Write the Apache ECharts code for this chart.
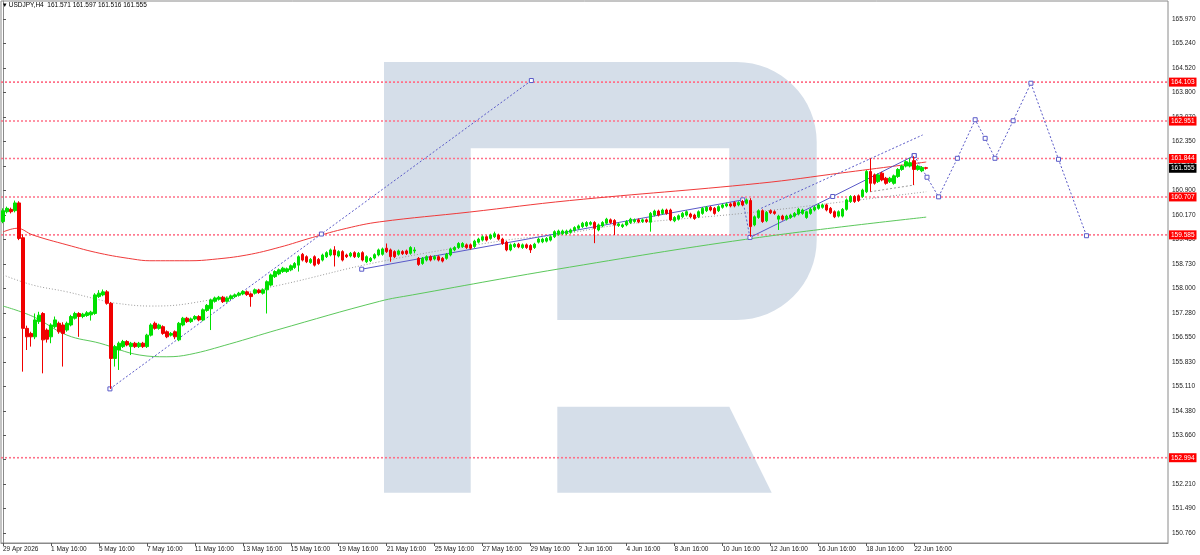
<!DOCTYPE html>
<html>
<head>
<meta charset="utf-8">
<script src="https://cdn.jsdelivr.net/npm/echarts@6/dist/echarts.min.js"></script>
<style>html,body{margin:0;padding:0;background:#fff;}#c{width:1200px;height:555px;}</style>
</head>
<body>
<div id="c"></div>
<script>
// ---------- DATA ----------
const symbolName = 'USDJPY,H4';
const xTickLabels = ['29 Apr 2026','1 May 16:00','5 May 16:00','7 May 16:00','11 May 16:00','13 May 16:00','15 May 16:00','19 May 16:00','21 May 16:00','25 May 16:00','27 May 16:00','29 May 16:00','2 Jun 16:00','4 Jun 16:00','8 Jun 16:00','10 Jun 16:00','12 Jun 16:00','16 Jun 16:00','18 Jun 16:00','22 Jun 16:00'];
const barsPerLabel = 12;
const slotCount = 292;
const yTicks = [150.760,151.490,152.210,152.940,153.660,154.380,155.110,155.830,156.550,157.280,158.000,158.730,159.450,160.170,160.900,161.620,162.350,163.070,163.800,164.520,165.240,165.970];
const levels = [164.103,162.951,161.844,160.707,159.585,152.994];
const currentPrice = 161.555;
// candles: [open, close, low, high]
const candles = [
[159.98,160.30,159.93,160.37],[160.27,160.37,160.22,160.42],[160.34,160.27,160.22,160.39],[160.30,160.53,160.25,160.60],
[160.53,159.48,159.43,160.58],[159.50,156.82,155.54,159.60],[156.82,156.57,156.18,156.90],[156.67,156.57,156.28,156.72],
[156.57,157.07,156.50,157.26],[157.02,157.21,156.95,157.31],[157.26,156.48,155.49,157.30],[156.77,156.50,156.40,156.82],
[156.57,156.92,156.38,156.97],[156.87,157.07,156.82,157.17],[156.97,156.72,156.66,157.02],[156.92,156.67,155.69,157.00],
[156.77,156.97,156.72,157.02],[156.92,157.17,156.88,157.22],[157.12,157.26,157.08,157.31],[157.26,157.17,156.57,157.30],
[157.17,157.24,157.12,157.28],[157.20,157.28,157.16,157.33],[157.22,157.30,157.05,157.34],[157.26,157.81,157.22,157.86],
[157.76,157.86,157.72,157.95],[157.81,157.90,157.77,157.97],[157.90,157.56,157.52,157.95],[157.56,155.93,155.03,157.60],
[155.93,156.28,155.69,156.33],[156.18,156.38,155.59,156.43],[156.28,156.43,156.24,156.48],[156.43,156.33,156.29,156.47],
[156.28,156.38,156.03,156.42],[156.38,156.28,156.24,156.42],[156.28,156.38,156.24,156.42],[156.38,156.28,156.24,156.42],
[156.28,156.62,156.24,156.66],[156.62,156.92,156.58,156.97],[156.97,156.82,156.78,157.02],[156.82,156.92,156.78,156.96],
[156.87,156.67,156.63,156.91],[156.72,156.57,156.53,156.76],[156.62,156.67,156.58,156.71],[156.72,156.57,156.50,156.76],
[156.48,156.97,156.44,157.01],[156.92,157.12,156.88,157.16],[157.12,157.02,156.98,157.16],[157.02,157.10,156.98,157.14],
[157.10,157.17,157.06,157.21],[157.17,157.07,157.03,157.21],[157.07,157.37,157.03,157.41],[157.35,157.50,157.31,157.54],
[157.40,157.66,156.77,157.70],[157.62,157.72,157.58,157.76],[157.68,157.74,157.64,157.78],[157.74,157.61,157.57,157.78],
[157.62,157.72,157.58,157.76],[157.70,157.78,157.66,157.82],[157.76,157.81,157.72,157.85],[157.80,157.86,157.76,157.90],
[157.84,157.91,157.80,157.95],[157.90,157.82,157.78,157.94],[157.84,157.76,157.46,157.88],[157.86,157.96,157.82,158.00],
[157.95,157.88,157.84,157.99],[157.86,157.96,157.82,158.00],[157.96,158.20,157.26,158.24],[158.10,158.40,158.06,158.44],
[158.35,158.50,158.31,158.54],[158.43,158.55,158.39,158.59],[158.50,158.60,158.46,158.64],[158.50,158.58,158.46,158.62],
[158.55,158.67,158.51,158.71],[158.62,158.74,158.58,158.78],[158.69,158.94,158.50,158.98],[159.01,158.84,158.80,159.05],
[158.94,158.79,158.75,158.98],[158.77,158.86,158.73,158.90],[158.94,158.69,158.65,158.98],[158.86,158.74,158.70,158.90],
[158.84,158.99,158.80,159.03],[158.94,159.06,158.90,159.10],[158.99,159.14,158.95,159.18],[159.14,158.99,158.65,159.25],
[158.96,159.09,158.92,159.13],[159.09,158.84,158.80,159.13],[158.99,158.94,158.90,159.03],[158.96,159.04,158.92,159.08],
[159.06,158.94,158.90,159.10],[158.94,159.04,158.90,159.08],[159.06,158.84,158.80,159.10],[158.79,158.94,158.75,158.98],
[158.82,158.89,158.78,158.93],[158.90,159.00,158.86,159.04],[158.99,159.14,158.95,159.18],[159.01,159.17,158.97,159.21],
[159.19,159.09,159.05,159.33],[159.14,158.94,158.79,159.18],[159.09,158.94,158.90,159.13],[159.01,159.11,158.97,159.15],
[159.09,159.03,158.99,159.13],[159.11,159.03,158.99,159.15],[159.04,159.21,159.00,159.25],[159.11,159.14,159.04,159.22],
[158.89,158.71,158.67,158.93],[158.74,158.89,158.70,158.93],[158.84,158.94,158.80,158.98],[158.94,158.84,158.80,158.98],
[158.87,158.94,158.83,158.98],[158.94,158.84,158.80,158.98],[158.89,158.81,158.77,158.93],[158.89,159.01,158.85,159.05],
[158.99,159.17,158.95,159.21],[159.14,159.21,159.10,159.25],[159.21,159.33,159.17,159.37],[159.24,159.33,159.20,159.37],
[159.29,159.21,159.17,159.33],[159.29,159.19,159.15,159.33],[159.24,159.40,159.20,159.44],[159.37,159.46,159.33,159.50],
[159.43,159.53,159.39,159.57],[159.53,159.43,159.39,159.57],[159.48,159.58,159.44,159.62],[159.53,159.62,159.49,159.68],
[159.58,159.46,159.42,159.62],[159.46,159.33,159.29,159.50],[159.37,159.14,159.10,159.41],[159.14,159.29,159.10,159.33],
[159.24,159.31,159.20,159.35],[159.31,159.23,159.19,159.35],[159.21,159.29,159.17,159.33],[159.29,159.21,159.17,159.33],
[159.27,159.14,159.05,159.31],[159.21,159.31,159.17,159.35],[159.37,159.46,159.33,159.50],[159.38,159.46,159.34,159.50],
[159.40,159.48,159.36,159.52],[159.43,159.53,159.39,159.57],[159.53,159.68,159.49,159.72],[159.60,159.70,159.56,159.74],
[159.62,159.70,159.58,159.74],[159.62,159.70,159.58,159.74],[159.66,159.73,159.62,159.77],[159.72,159.80,159.68,159.84],
[159.78,159.85,159.74,159.89],[159.83,159.93,159.79,159.97],[159.85,159.95,159.81,159.99],[159.90,159.95,159.86,159.99],
[159.95,159.78,159.34,159.99],[159.73,159.88,159.69,159.92],[159.85,159.95,159.81,159.99],[159.93,160.05,159.89,160.09],
[160.03,159.95,159.91,160.07],[160.01,159.88,159.58,160.05],[159.86,159.91,159.82,159.95],[159.83,159.88,159.79,159.92],
[159.88,159.98,159.84,160.02],[159.95,160.05,159.91,160.09],[159.98,160.03,159.94,160.07],[160.03,159.97,159.93,160.07],
[159.98,160.03,159.94,160.07],[160.03,159.98,159.94,160.07],[159.96,160.22,159.68,160.26],[160.17,160.29,160.13,160.33],
[160.29,160.17,160.13,160.33],[160.22,160.32,160.18,160.36],[160.32,160.22,160.18,160.36],[160.32,160.03,159.99,160.36],
[160.00,160.10,159.96,160.14],[160.05,160.15,160.01,160.19],[160.12,160.22,160.08,160.26],[160.17,160.27,160.13,160.31],
[160.20,160.12,160.08,160.24],[160.17,160.07,160.03,160.21],[160.12,160.27,160.08,160.31],[160.22,160.37,160.18,160.41],
[160.30,160.40,160.26,160.44],[160.40,160.32,160.28,160.44],[160.37,160.22,160.18,160.41],[160.30,160.42,160.26,160.46],
[160.40,160.47,160.36,160.51],[160.44,160.50,160.40,160.54],[160.50,160.44,160.40,160.54],[160.54,160.44,160.40,160.58],
[160.47,160.54,160.43,160.58],[160.57,160.47,160.43,160.62],[160.52,160.62,160.48,160.66],[160.60,159.83,159.53,160.67],
[159.88,160.12,159.84,160.16],[160.10,160.30,160.06,160.34],[160.30,159.98,159.94,160.34],[160.00,160.25,159.96,160.29],
[160.30,160.24,160.20,160.34],[160.27,160.22,160.18,160.31],[160.05,160.14,159.73,160.18],[160.14,160.05,160.01,160.18],
[160.05,160.14,160.01,160.18],[160.10,160.17,160.06,160.21],[160.14,160.22,160.10,160.26],[160.20,160.34,160.16,160.38],
[160.22,160.32,160.18,160.36],[160.10,160.27,160.06,160.30],[160.22,160.34,160.18,160.38],[160.32,160.40,160.28,160.44],
[160.37,160.47,160.33,160.51],[160.40,160.47,160.36,160.51],[160.47,160.32,160.28,160.51],[160.37,160.24,160.20,160.41],
[160.27,160.12,160.08,160.31],[160.14,160.27,160.10,160.31],[160.14,160.34,160.10,160.38],[160.34,160.62,160.30,160.66],
[160.57,160.72,160.53,160.76],[160.72,160.57,160.53,160.76],[160.74,160.60,160.56,160.78],[160.72,160.91,160.68,160.95],
[160.86,161.46,160.82,161.50],[161.46,161.11,160.86,161.85],[161.36,161.11,161.07,161.40],[161.16,161.36,161.12,161.40],
[161.41,161.21,161.17,161.45],[161.26,161.11,161.07,161.30],[161.16,161.26,161.12,161.30],[161.11,161.33,161.07,161.37],
[161.31,161.52,161.27,161.56],[161.52,161.62,161.48,161.66],[161.62,161.75,161.58,161.79],[161.62,161.72,161.58,161.85],
[161.78,161.52,161.06,161.91],[161.52,161.62,161.48,161.66],[161.48,161.58,161.44,161.62],[161.571,161.555,161.516,161.597]
];
// moving averages: [bar index, price]
const maRed = [[0,159.67],[3.5,159.78],[7.5,159.58],[16,159.29],[24.25,159.04],[32.5,158.87],[36.75,158.82],[46.75,158.82],[52.5,158.86],[61,158.99],[69.25,159.22],[77.5,159.51],[86,159.78],[94.25,159.97],[116.75,160.26],[141.75,160.60],[189.25,161.11],[210,161.42],[231,161.74]];
const maGrey = [[0,158.40],[7.5,158.10],[16,157.90],[24.25,157.66],[28.5,157.56],[36.75,157.48],[46.75,157.56],[69.25,158.10],[94.25,158.79],[126,159.43],[138.5,159.58],[154.25,159.88],[185,160.22],[210,160.56],[231,160.86]];
const maGreen = [[0,157.48],[7.5,157.17],[16,156.62],[24.25,156.38],[34.25,156.03],[41,155.98],[46.75,156.05],[56.75,156.36],[68.5,156.77],[94.25,157.62],[102.5,157.81],[141.75,158.63],[189.25,159.51],[231,160.11]];
// analysis drawings: [bar index, price]
const rayLong = [[26.75,155.03],[79.67,159.61],[132.2,164.15]];
const trendA = [[89.75,158.57],[185.1,160.62]];
const dropLink = [[185.1,160.62],[186.9,159.51]];
const trendB = [[186.9,159.51],[207.6,160.72],[228,161.93]];
const channelUp = [[189.7,160.37],[230.1,162.54]];
const channelLow = [[217,160.86],[228,161.06]];
const forecast = [[228,161.93],[231.2,161.29],[234.1,160.71],[238.8,161.85],[243.25,162.99],[245.75,162.44],[248.2,161.85],[252.75,162.96],[257.2,164.07],[264.1,161.82],[271.1,159.56]];

// ---------- CHART ----------
const FONT = 'Liberation Sans, Arial, sans-serif';
const FS = 6.5;
const cats = [];
for (let i = 0; i < slotCount; i++) cats.push(i % barsPerLabel === 0 && xTickLabels[i / barsPerLabel] ? xTickLabels[i / barsPerLabel] : '');
const showCat = (idx, val) => val !== '';
const last = candles[candles.length - 1];
const titleText = '\u25BE ' + symbolName + '  ' + [last[0], last[3], last[2], last[1]].map(v => v.toFixed(3)).join(' ');

// watermark logo outline (decoration, page pixels)
function arcPts(cx, cy, r, a0, a1, n) {
  const pts = [];
  for (let k = 0; k <= n; k++) { const a = (a0 + (a1 - a0) * k / n) * Math.PI / 180; pts.push([cx + r * Math.cos(a), cy + r * Math.sin(a)]); }
  return pts;
}
const logoTop = [[384,62],[736.7,62]]
  .concat(arcPts(736.7,142,80,-90,0,16))
  .concat(arcPts(736.7,240,80,0,90,16))
  .concat([[557.3,320],[557.3,235],[729.3,235],[729.3,148.3],[470.7,148.3],[470.7,492.7],[384,492.7]]);
const logoLeg = [[557.3,406.7],[729.3,406.7],[771.7,492.7],[557.3,492.7]];

const BLUE = '#5a5ac8';
const LEVEL_COLOR = '#ff7088';
const drawLine = (data, dashed, color, sym) => ({
  type: 'line', xAxisIndex: 1, yAxisIndex: 0, data, z: 4,
  symbol: sym ? 'rect' : 'none', symbolSize: 4, showSymbol: !!sym,
  itemStyle: { color: '#fff', borderColor: color, borderWidth: 1 },
  lineStyle: { color, width: 1, type: dashed ? [2, 2] : 'solid' },
  silent: true, animation: false
});
const maLine = (data, color, dashed) => ({
  type: 'line', xAxisIndex: 1, yAxisIndex: 0, data, smooth: 0.4, showSymbol: false, z: 3,
  lineStyle: { color, width: 1, type: dashed ? [1, 2] : 'solid' }, silent: true, animation: false
});
const levelSeries = levels.map(v => ({
  type: 'line', xAxisIndex: 1, yAxisIndex: 0, z: 2, silent: true, animation: false,
  data: [[-0.5, v], [slotCount - 0.5, v]], showSymbol: false, symbol: 'none',
  itemStyle: { color: LEVEL_COLOR },
  lineStyle: { color: LEVEL_COLOR, width: 1.6, type: [2, 2] }
}));

const levelLabel = (bg) => ({
  show: true, position: 'end', distance: 1, formatter: p => Number(p.value).toFixed(3),
  color: '#fff', backgroundColor: bg, fontSize: FS, fontFamily: FONT, padding: [1, 2, 1, 2]
});
const NO_LINE = { color: 'rgba(255,255,255,0)', width: 0 };
const labelItems = levels.map(v => ({ yAxis: v, label: levelLabel('#ff0000'), lineStyle: NO_LINE }))
  .concat([{ yAxis: currentPrice, label: levelLabel('#000000'), lineStyle: NO_LINE }]);

const chart = echarts.init(document.getElementById('c'));
chart.setOption({
  animation: false,
  backgroundColor: '#fff',
  title: { text: titleText, left: 3, top: 2, padding: 0, textStyle: { fontSize: FS, fontWeight: 'normal', color: '#000', fontFamily: FONT } },
  grid: { left: 1, right: 32, top: 1, bottom: 12, show: true, borderColor: '#8a8a8a', borderWidth: 1, backgroundColor: 'transparent' },
  graphic: [
    { type: 'polygon', z: -1, silent: true, shape: { points: logoTop }, style: { fill: '#d5dee9' } },
    { type: 'polygon', z: -1, silent: true, shape: { points: logoLeg }, style: { fill: '#d5dee9' } }
  ],
  xAxis: [
    { type: 'category', data: cats, boundaryGap: true,
      axisLine: { lineStyle: { color: '#8a8a8a' } },
      axisTick: { show: true, alignWithLabel: true, interval: showCat, length: 3, lineStyle: { color: '#555' } },
      axisLabel: { interval: showCat, align: 'left', fontSize: FS, color: '#222', fontFamily: FONT, margin: 3 },
      splitLine: { show: false } },
    { type: 'value', min: -0.5, max: slotCount - 0.5, show: false }
  ],
  yAxis: [{
    type: 'value', position: 'right', min: 150.472, max: 166.502,
    axisLine: { show: true, lineStyle: { color: '#8a8a8a' } },
    axisTick: { show: true, length: 3, customValues: yTicks, lineStyle: { color: '#555' } },
    axisLabel: { customValues: yTicks, formatter: v => v.toFixed(3), fontSize: FS, color: '#222', fontFamily: FONT, margin: 4 },
    splitLine: { show: false }
  }],
  series: levelSeries.concat([
    {
      type: 'line', name: 'levelLabels', xAxisIndex: 1, yAxisIndex: 0, data: [], z: 7,
      markLine: {
        symbol: ['none', 'none'], silent: true, animation: false, precision: 3,
        data: labelItems
      }
    },
    maLine(maGreen, '#5cc85c', false),
    maLine(maGrey, '#9a9a9a', true),
    maLine(maRed, '#f03a3a', false),
    drawLine(rayLong, true, BLUE, true),
    drawLine(trendA, false, BLUE, true),
    drawLine(dropLink, true, BLUE, false),
    drawLine(trendB, false, BLUE, true),
    drawLine(channelUp, true, BLUE, false),
    drawLine(channelLow, true, '#9a9a9a', false),
    drawLine(forecast, true, BLUE, true),
    {
      type: 'candlestick', xAxisIndex: 0, yAxisIndex: 0, data: candles, barWidth: 3, z: 5,
      itemStyle: { color: '#00e000', color0: '#f00000', borderColor: '#00e000', borderColor0: '#f00000', borderWidth: 1 },
      silent: true
    }
  ])
});
</script>
</body>
</html>
